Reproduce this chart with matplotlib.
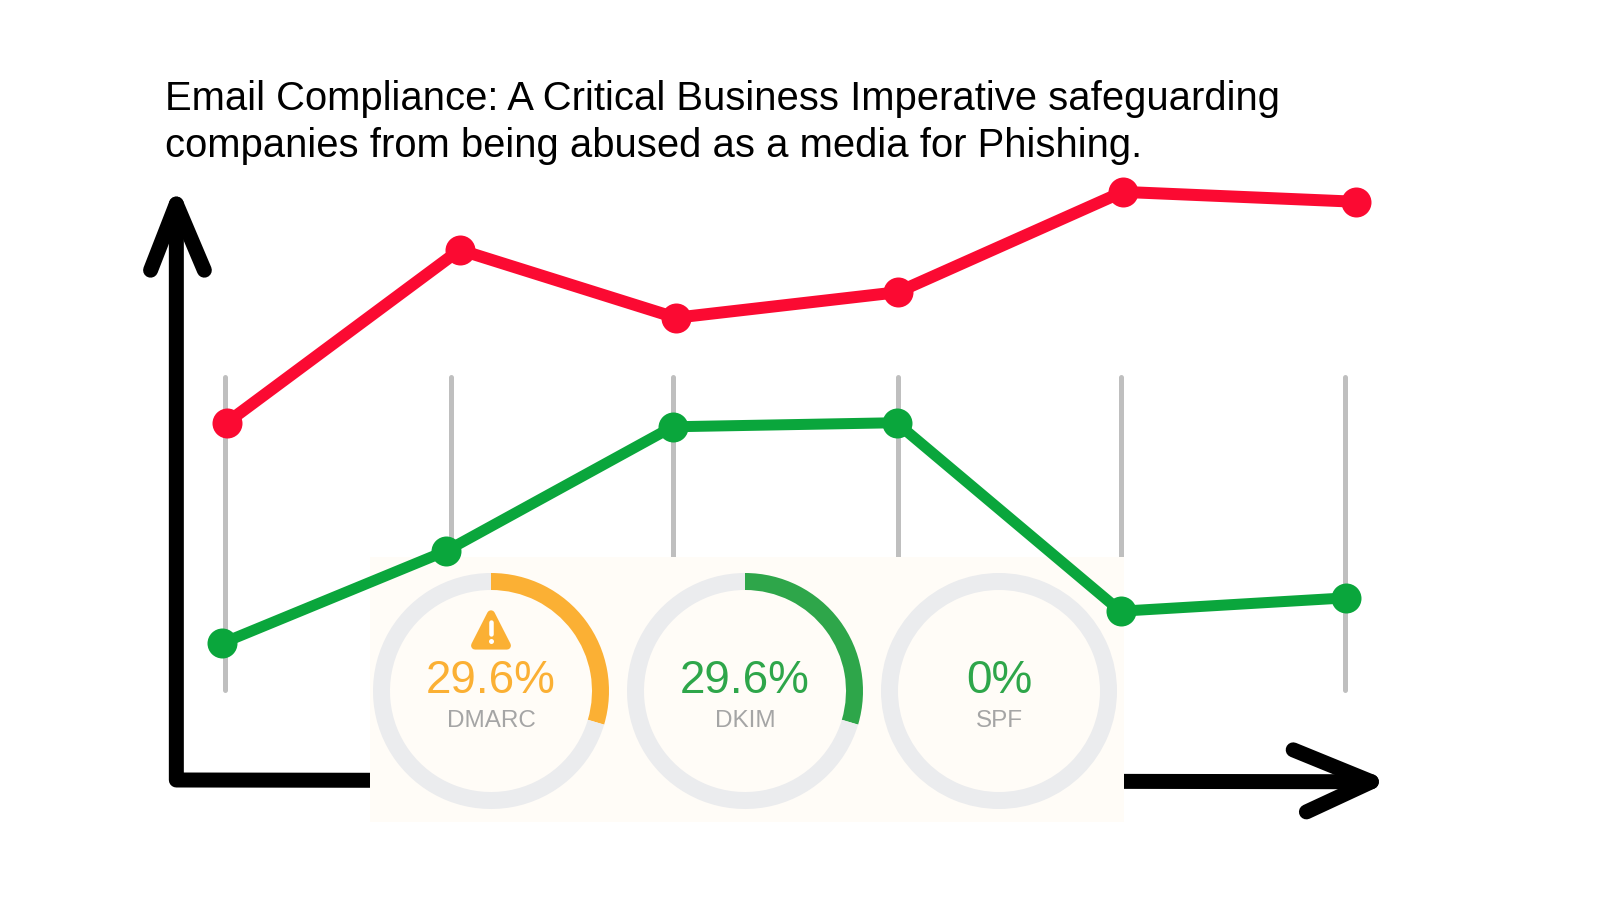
import matplotlib
matplotlib.use("Agg")
import matplotlib.pyplot as plt
from matplotlib.patches import Polygon, Rectangle

plt.rcParams['font.family'] = ['Liberation Sans', 'DejaVu Sans']

# ---- data
title_lines = ["Email Compliance: A Critical Business Imperative safeguarding",
               "companies from being abused as a media for Phishing."]
red_x = [0.01, 1.05, 2.015, 3.005, 4.01, 5.05]
red_y = [61.6, 91.4, 79.7, 84.1, 101.4, 99.7]
green_x = [-0.01, 0.99, 2.00, 3.00, 4.00, 5.005]
green_y = [23.6, 39.5, 60.9, 61.6, 29.1, 31.4]
grid_x = [0.00, 1.01, 2.00, 3.005, 4.00, 5.00]
grid_low, grid_high = 15.5, 69.5
names = ["DMARC", "DKIM", "SPF"]
pcts = [29.6, 29.6, 0.0]
pct_labels = ["29.6%", "29.6%", "0%"]
arc_colors = ["#fbb034", "#2ea64a", "#2ea64a"]

# ---- scale: period 0 at px 224.5, 224 px per period; value 0 at px 780, 5.8 px per unit
W, H = 1600, 900
X0, XS, Y0, YS = 224.5, 224.0, 780.0, 5.8
PX = 0.72

fig = plt.figure(figsize=(16, 9), dpi=100, facecolor="white")
ax = fig.add_axes([0, 0, 1, 1])
ax.set_xlim(-X0 / XS, (W - X0) / XS)
ax.set_ylim((Y0 - H) / YS, Y0 / YS)
ax.axis("off")

# grey period guides
ax.vlines(grid_x, grid_low, grid_high, color="#bfbfbf", lw=5 * PX, zorder=1, capstyle="round")

# sketched axes
axis_kw = dict(color="black", lw=15 * PX, solid_capstyle="round", solid_joinstyle="round", zorder=2)
ax.plot([-0.215, -0.215, 5.12], [99.3, 0, -0.3], **axis_kw)
ax.plot([-0.33, -0.215, -0.09], [87.9, 99.3, 87.9], **axis_kw)
ax.plot([4.771, 5.12, 4.83], [5.2, -0.3, -5.5], **axis_kw)

# panel
ax.add_patch(Rectangle(((370 - X0) / XS, (Y0 - 822) / YS),
                       (1124 - 370) / XS, (822 - 557) / YS,
                       facecolor="#fffcf7", edgecolor="none", zorder=3))

# series
for xs, ys, c, w in [(red_x, red_y, "#fb0a32", 12), (green_x, green_y, "#0aa63c", 11)]:
    ax.plot(xs, ys, color=c, lw=w * PX, marker="o", ms=30 * PX, mew=0,
            solid_joinstyle="round", zorder=5)

# title
for line, base in zip(title_lines, [110, 157]):
    fig.text(165 / W, 1 - base / H, line, fontsize=28.85, color="black", va="baseline", ha="left")

# gauges
R = 118
for cx, name, p, lab, col in zip([491, 745, 999], names, pcts, pct_labels, arc_colors):
    a = fig.add_axes([(cx - R) / W, 1 - (691 + R) / H, 2 * R / W, 2 * R / H], zorder=4)
    a.pie([p, 100 - p], startangle=90, counterclock=False, radius=1,
          colors=[col, "#ebecee"], wedgeprops=dict(width=17 / R, edgecolor="none"))
    a.set_xlim(-1, 1)
    a.set_ylim(-1, 1)
    a.axis("off")
    a.text(0, 10 / R, lab, color=col, fontsize=33, ha="center", va="center")
    a.text(0, -30 / R, name, color="#a5a5a5", fontsize=17.5, ha="center", va="center")
    if name == "DMARC":
        a.add_patch(Polygon([(0, 0.65), (-0.135, 0.385), (0.135, 0.385)], closed=True,
                            facecolor=col, edgecolor=col, lw=8 * PX, joinstyle="round"))
        a.plot([0, 0], [0.585, 0.485], color="white", lw=4.5 * PX, solid_capstyle="round")
        a.plot([0], [0.42], marker="o", color="white", ms=5 * PX, mew=0)

fig.savefig("out.png", dpi=100)
